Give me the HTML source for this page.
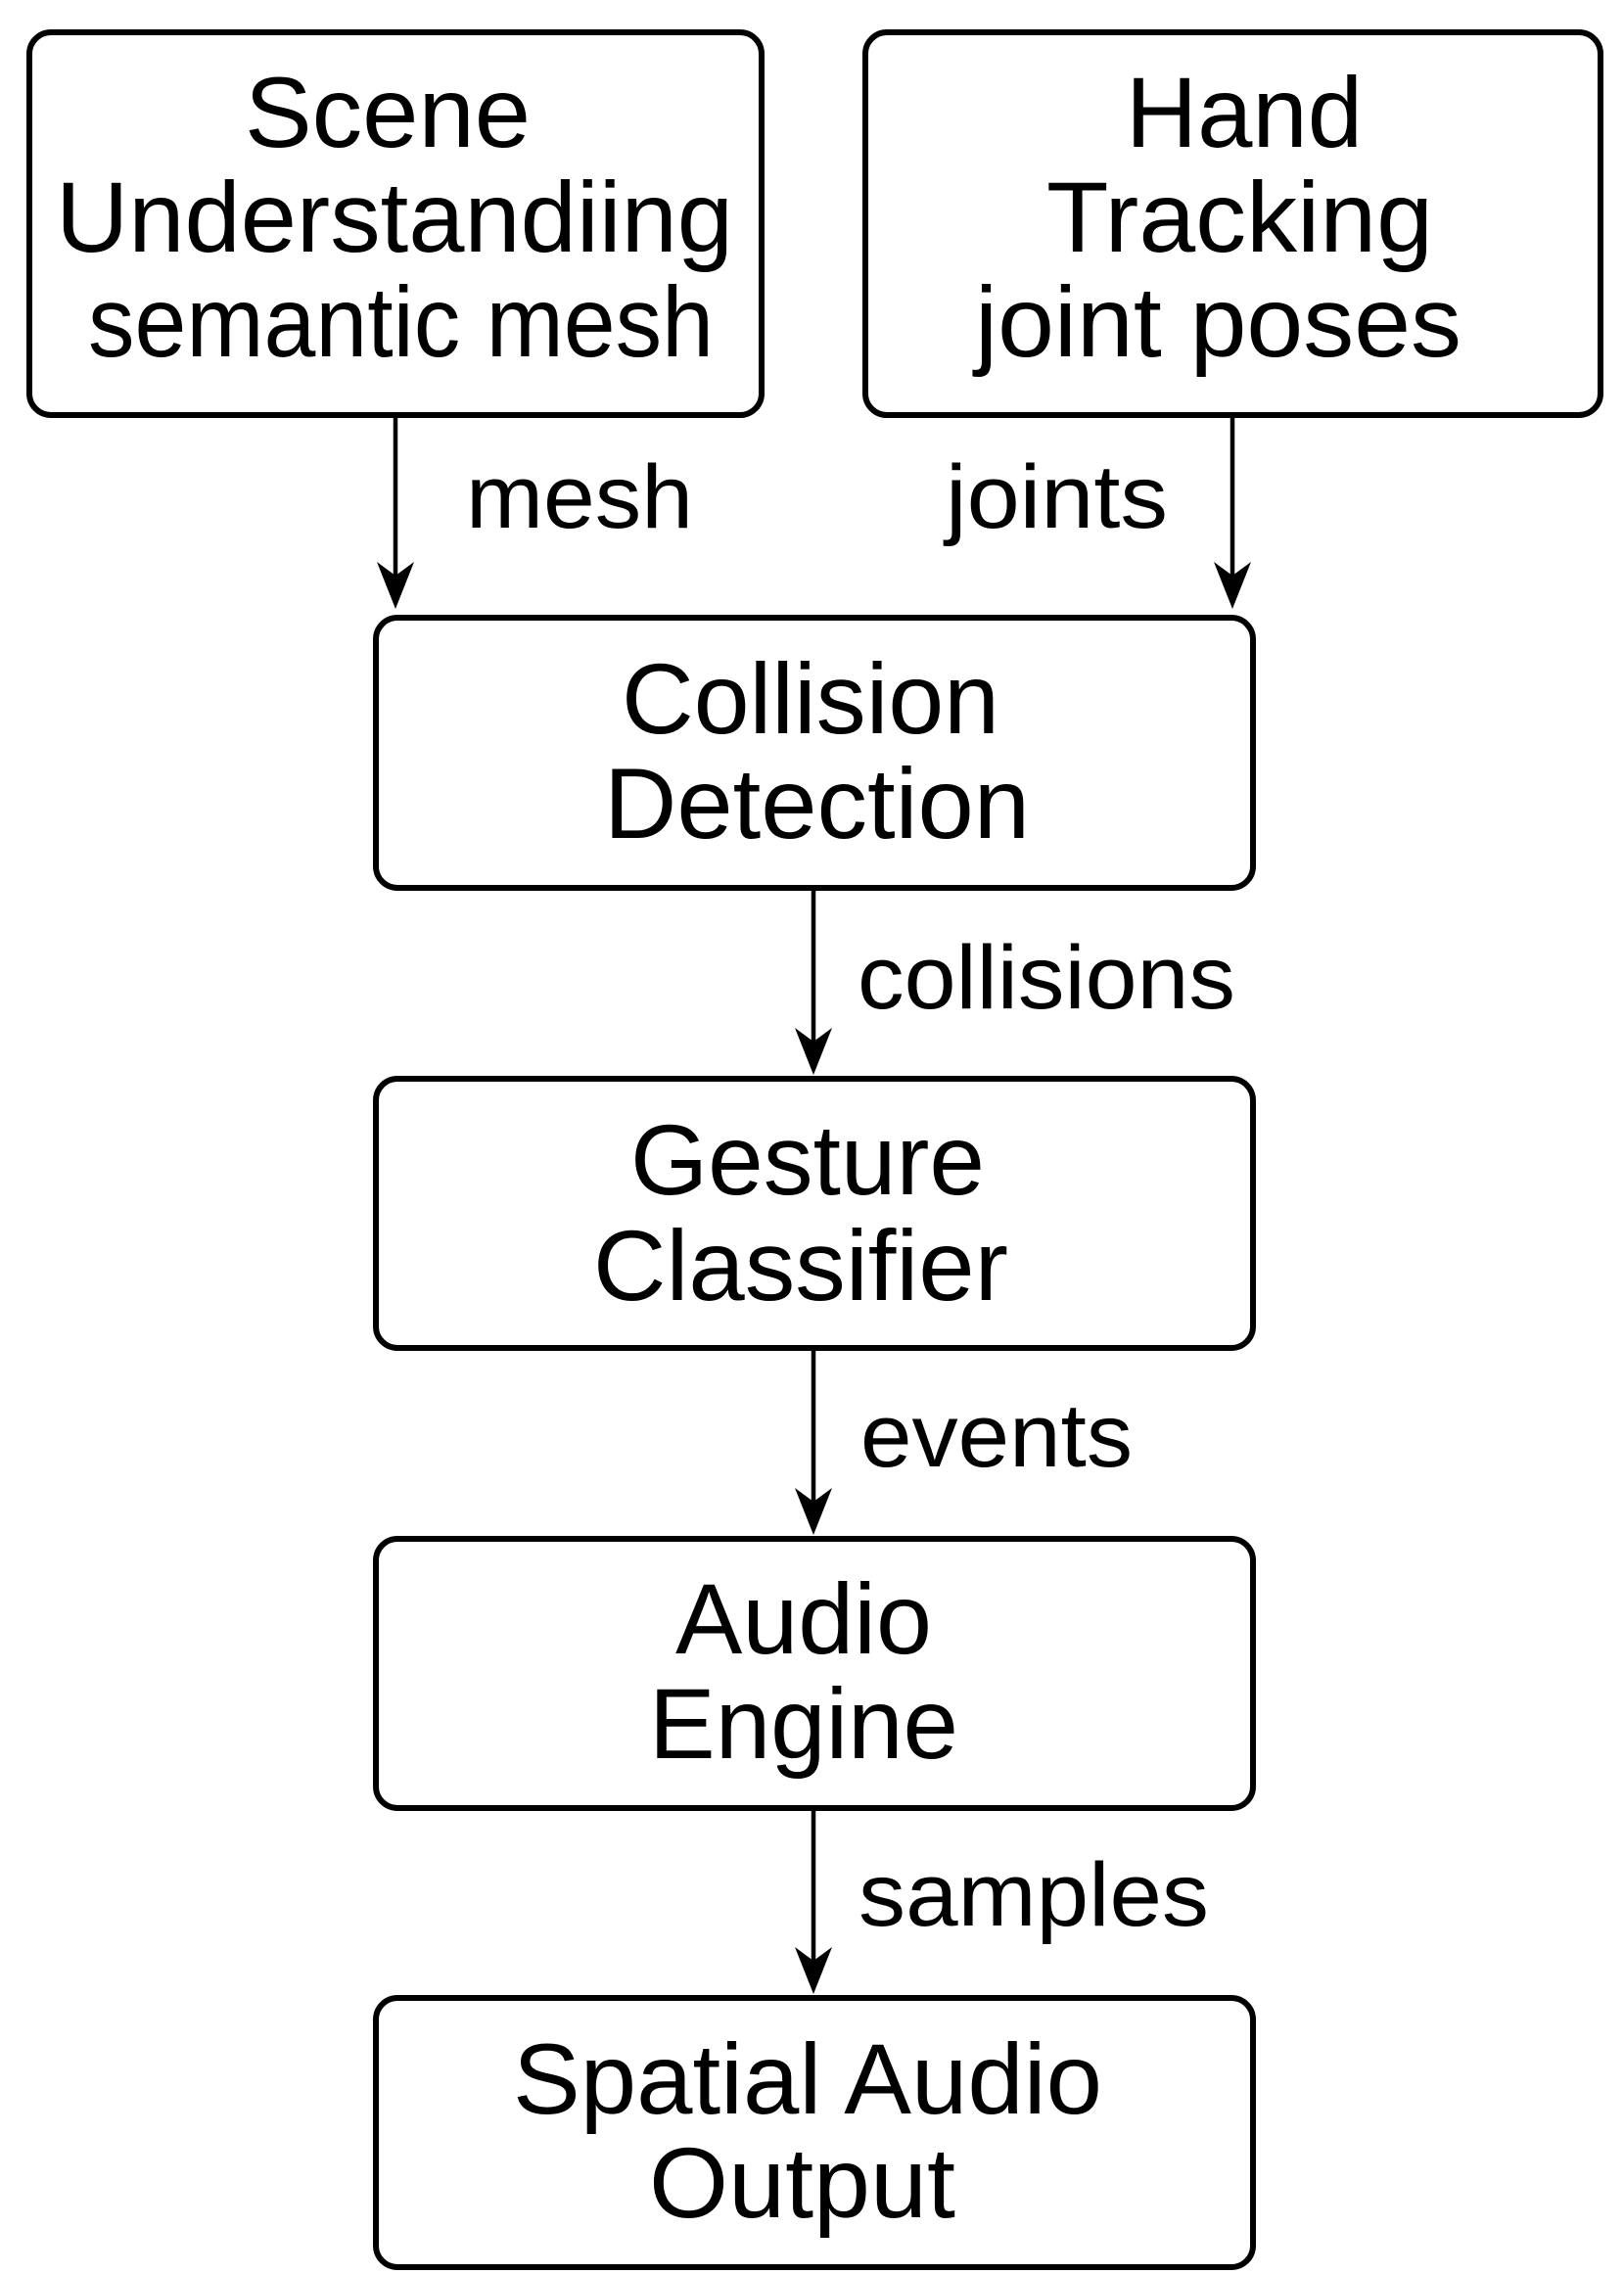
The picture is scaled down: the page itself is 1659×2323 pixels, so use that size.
<!DOCTYPE html>
<html><head><meta charset="utf-8"><style>
html,body{margin:0;padding:0;background:#fff;}
svg{display:block;}
text{font-family:"Liberation Sans",Arial,sans-serif;fill:#000;}
</style></head><body>
<svg width="1659" height="2323" viewBox="0 0 1659 2323" xmlns="http://www.w3.org/2000/svg">
<g fill="none" stroke="#000" stroke-width="6">
<rect x="30" y="33" width="748" height="391" rx="22"/>
<rect x="884" y="33" width="751" height="391" rx="22"/>
<rect x="384" y="631" width="896" height="276" rx="22"/>
<rect x="384" y="1102" width="896" height="275" rx="22"/>
<rect x="384" y="1572" width="896" height="275" rx="22"/>
<rect x="384" y="2041" width="896" height="275" rx="22"/>
</g>
<g stroke="#000" stroke-width="4.5">
<line x1="404" y1="424" x2="404" y2="600"/>
<line x1="1259" y1="424" x2="1259" y2="600"/>
<line x1="831" y1="907" x2="831" y2="1075"/>
<line x1="831" y1="1377" x2="831" y2="1545"/>
<line x1="831" y1="1847" x2="831" y2="2014"/>
</g>
<g fill="#000">
<path d="M404 622 L385 574 L404 588 L423 574 Z"/>
<path d="M1259 622 L1240 574 L1259 588 L1278 574 Z"/>
<path d="M831 1098 L812 1050 L831 1064 L850 1050 Z"/>
<path d="M831 1568 L812 1520 L831 1534 L850 1520 Z"/>
<path d="M831 2037 L812 1989 L831 2003 L850 1989 Z"/>
</g>
<g font-size="102">
<text x="250" y="150" textLength="292" lengthAdjust="spacingAndGlyphs">Scene</text>
<text x="57" y="257" textLength="692" lengthAdjust="spacingAndGlyphs">Understandiing</text>
<text x="90" y="364" textLength="639" lengthAdjust="spacingAndGlyphs">semantic mesh</text>
<text x="1150" y="150" textLength="242" lengthAdjust="spacingAndGlyphs">Hand</text>
<text x="1069" y="257" textLength="395" lengthAdjust="spacingAndGlyphs">Tracking</text>
<text x="996" y="364" textLength="497" lengthAdjust="spacingAndGlyphs">joint poses</text>
<text x="635" y="749" textLength="386" lengthAdjust="spacingAndGlyphs">Collision</text>
<text x="617" y="856" textLength="435" lengthAdjust="spacingAndGlyphs">Detection</text>
<text x="644" y="1220" textLength="362" lengthAdjust="spacingAndGlyphs">Gesture</text>
<text x="606" y="1328" textLength="424" lengthAdjust="spacingAndGlyphs">Classifier</text>
<text x="690" y="1689" textLength="262" lengthAdjust="spacingAndGlyphs">Audio</text>
<text x="663" y="1796" textLength="316" lengthAdjust="spacingAndGlyphs">Engine</text>
<text x="524" y="2159" textLength="602" lengthAdjust="spacingAndGlyphs">Spatial Audio</text>
<text x="663" y="2265" textLength="313" lengthAdjust="spacingAndGlyphs">Output</text>
</g>
<g font-size="92">
<text x="476" y="539" textLength="232" lengthAdjust="spacingAndGlyphs">mesh</text>
<text x="966" y="539" textLength="227" lengthAdjust="spacingAndGlyphs">joints</text>
<text x="876" y="1030" textLength="386" lengthAdjust="spacingAndGlyphs">collisions</text>
<text x="879" y="1498" textLength="278" lengthAdjust="spacingAndGlyphs">events</text>
<text x="877" y="1967" textLength="358" lengthAdjust="spacingAndGlyphs">samples</text>
</g>
</svg>
</body></html>
